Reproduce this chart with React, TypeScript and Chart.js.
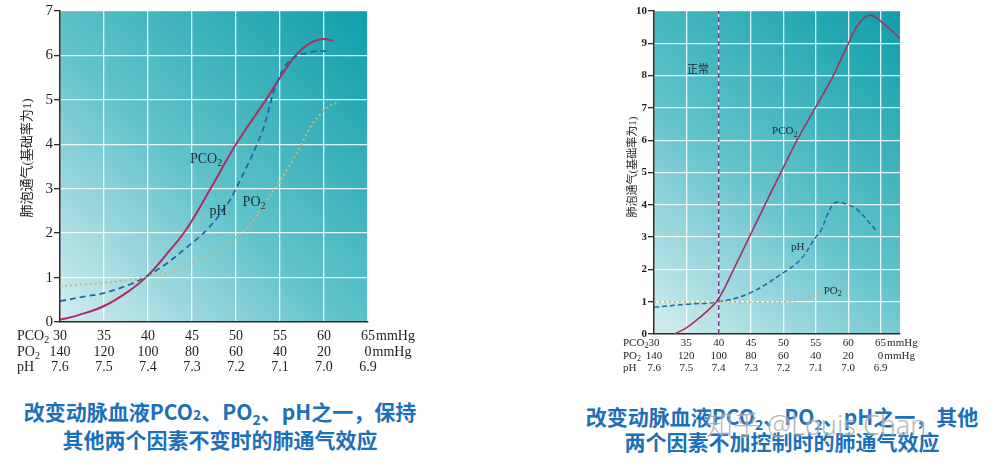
import React, { useEffect, useRef } from "react";
import { Chart, registerables } from "chart.js";
Chart.register(...registerables);

// ---------------- Data ----------------
const xTickValues = [30, 35, 40, 45, 50, 55, 60, 65];
const pco2RowLabels = ["30", "35", "40", "45", "50", "55", "60", "65"];
const po2RowLabels = ["140", "120", "100", "80", "60", "40", "20", "0"];
const phRowLabels = ["7.6", "7.5", "7.4", "7.3", "7.2", "7.1", "7.0", "6.9"];
const unitSuffix = "mmHg";
const rowNames = ["PCO", "PO", "pH"];
const rowSubs = ["2", "2", ""];
const yTitle = "肺泡通气(基础率为1)";

// Left chart: one factor changed, the other two held constant
const leftPco2X = [30, 32, 35, 38, 40, 42, 44.3, 47.1, 50, 53.4, 55.5, 57, 58.6, 60, 61];
const leftPco2Y = [0.05, 0.15, 0.36, 0.72, 1.05, 1.5, 2.07, 3.0, 4.0, 5.0, 5.65, 6.05, 6.3, 6.37, 6.33];
const leftPhX = [30, 33, 35, 38, 40, 42.2, 44.4, 46.8, 49, 50, 52.9, 54.6, 56.2, 58.6, 60.3];
const leftPhY = [0.47, 0.58, 0.65, 0.85, 1.05, 1.33, 1.68, 2.1, 2.65, 3.0, 4.25, 5.35, 5.9, 6.08, 6.1];
const leftPo2X = [30, 33, 35, 38, 40, 43, 45, 47, 49.5, 51, 52, 53, 54.6, 56, 57.3, 58.5, 59.7, 60.5, 61.4];
const leftPo2Y = [0.8, 0.85, 0.88, 0.95, 1.03, 1.15, 1.33, 1.47, 1.85, 2.07, 2.3, 2.6, 3.05, 3.5, 3.95, 4.4, 4.7, 4.85, 4.93];

// Right chart: the other two factors uncontrolled
const rightPco2X = [33.1, 35, 37, 38.7, 40, 42.3, 45.2, 47.5, 49.8, 52.1, 55, 57.7, 59.8, 61.6, 63.3, 64.9, 68];
const rightPco2Y = [0, 0.19, 0.5, 0.8, 1.1, 2.0, 3.2, 4.15, 5.08, 6.0, 7.03, 8.0, 8.9, 9.6, 9.87, 9.7, 9.15];
const rightPhX = [30, 35, 40, 44.8, 50, 52.6, 55, 55.8, 56.8, 57.8, 58.5, 60, 61.4, 63.9, 64.3];
const rightPhY = [0.83, 0.92, 1.0, 1.27, 1.9, 2.3, 3.0, 3.2, 3.7, 4.05, 4.08, 4.0, 3.85, 3.3, 3.2];
const rightPo2X = [30, 35, 40, 45, 50, 52, 54, 55, 55.8];
const rightPo2Y = [1.0, 1.0, 1.0, 0.99, 1.0, 1.04, 1.12, 1.2, 1.32];
const normalLineX = [40, 40];
const normalLineY = [0, 10];

// Curve annotations (data coordinates)
const leftLabels = [
  { text: "PCO", sub: "2", x: 46.6, y: 3.67 },
  { text: "pH", sub: "", x: 47.95, y: 2.48 },
  { text: "PO", sub: "2", x: 52.05, y: 2.7 },
];
const rightLabels = [
  { text: "PCO", sub: "2", x: 50.2, y: 6.28 },
  { text: "pH", sub: "", x: 52.2, y: 2.69 },
  { text: "PO", sub: "2", x: 57.6, y: 1.33 },
  { text: "正常", sub: "", x: 36.8, y: 8.17 },
];

const SERIF = '"Liberation Serif", "DejaVu Serif", "Noto Sans CJK SC", serif';

const pts = (xs: number[], ys: number[]) => xs.map((x, i) => ({ x, y: ys[i] }));

type Spec = {
  left: number;
  width: number;
  height: number;
  areaLeft: number;
  areaRight: number;
  areaTop: number;
  areaBottom: number;
  xMax: number;
  yMax: number;
  yFont: number;
  rowFont: number;
  rowOffsets: number[];
  rowNameX: number;
  titleX: number;
  titleY: number;
  titleFont: number;
  labelFont: number;
  labels: { text: string; sub: string; x: number; y: number }[];
  datasets: any[];
};

function drawSubText(ctx: CanvasRenderingContext2D, text: string, sub: string, x: number, y: number, size: number, align: "left" | "center") {
  ctx.font = `${size}px ${SERIF}`;
  const w1 = ctx.measureText(text).width;
  ctx.font = `${Math.round(size * 0.7)}px ${SERIF}`;
  const w2 = sub ? ctx.measureText(sub).width : 0;
  const start = align === "center" ? x - (w1 + w2) / 2 : x;
  ctx.textAlign = "left";
  ctx.textBaseline = "middle";
  ctx.font = `${size}px ${SERIF}`;
  ctx.fillText(text, start, y);
  if (sub) {
    ctx.font = `${Math.round(size * 0.7)}px ${SERIF}`;
    ctx.fillText(sub, start + w1, y + size * 0.3);
  }
}

function ChartPanel({ spec }: { spec: Spec }) {
  const ref = useRef<HTMLCanvasElement | null>(null);
  useEffect(() => {
    if (!ref.current) return;
    const s = spec;
    const deco = {
      id: "deco",
      beforeDraw(chart: any) {
        const { ctx, chartArea: a } = chart;
        const g = ctx.createLinearGradient(a.left, a.bottom, a.right, a.top);
        g.addColorStop(0, "#d4edf0");
        g.addColorStop(0.45, "#62c3ca");
        g.addColorStop(1, "#0f9eaa");
        ctx.save();
        ctx.fillStyle = g;
        ctx.fillRect(a.left, a.top, a.right - a.left, a.bottom - a.top);
        ctx.restore();
      },
      afterDraw(chart: any) {
        const { ctx, chartArea: a } = chart;
        const xs = chart.scales.x;
        const ys = chart.scales.y;
        ctx.save();
        ctx.fillStyle = "#1e1e1e";
        const rows = [pco2RowLabels, po2RowLabels, phRowLabels];
        rows.forEach((row, r) => {
          const y = a.bottom + s.rowOffsets[r];
          ctx.font = `${s.rowFont}px ${SERIF}`;
          ctx.textBaseline = "middle";
          row.forEach((lab, i) => {
            const px = xs.getPixelForValue(xTickValues[i]);
            ctx.textAlign = "center";
            ctx.fillText(lab, px, y);
            if (i === row.length - 1 && r < 2) {
              const w = ctx.measureText(lab).width;
              ctx.textAlign = "left";
              ctx.fillText(unitSuffix, px + w / 2 + 1, y);
            }
          });
          drawSubText(ctx, rowNames[r], rowSubs[r], s.rowNameX, y, s.rowFont, "left");
        });
        ctx.save();
        ctx.translate(s.titleX, s.titleY);
        ctx.rotate(-Math.PI / 2);
        ctx.font = `${s.titleFont}px ${SERIF}`;
        ctx.textAlign = "center";
        ctx.textBaseline = "middle";
        ctx.fillText(yTitle, 0, 0);
        ctx.restore();
        ctx.fillStyle = "#1b2a33";
        s.labels.forEach((l) => {
          drawSubText(ctx, l.text, l.sub, xs.getPixelForValue(l.x), ys.getPixelForValue(l.y), s.labelFont, "center");
        });
        ctx.restore();
      },
    };
    const chart = new Chart(ref.current, {
      type: "line",
      data: { datasets: s.datasets },
      options: {
        animation: false,
        responsive: false,
        maintainAspectRatio: false,
        layout: {
          padding: {
            left: 0,
            top: s.areaTop,
            right: s.width - s.areaRight,
            bottom: 0,
          },
        },
        plugins: { legend: { display: false }, tooltip: { enabled: false } },
        elements: { point: { radius: 0 } },
        scales: {
          x: {
            type: "linear",
            min: 30,
            max: s.xMax,
            afterBuildTicks: (sc: any) => {
              sc.ticks = xTickValues.map((v) => ({ value: v }));
            },
            afterFit: (sc: any) => {
              sc.height = s.height - s.areaBottom;
            },
            ticks: { display: false },
            grid: { color: "rgba(255,255,255,0.85)", lineWidth: 1.3, drawTicks: false },
            border: { color: "#2a2a2a", width: 1.5 },
          },
          y: {
            min: 0,
            max: s.yMax,
            afterFit: (sc: any) => {
              sc.width = s.areaLeft;
            },
            ticks: {
              stepSize: 1,
              color: "#1e1e1e",
              padding: 1,
              font: { family: SERIF, size: s.yFont, weight: s.yFont < 13 ? "bold" : "normal" },
            },
            grid: { color: "rgba(255,255,255,0.85)", lineWidth: 1.3, tickColor: "#2a2a2a", tickLength: 6, tickWidth: 1.3 },
            border: { color: "#2a2a2a", width: 1.5 },
          },
        },
      },
      plugins: [deco],
    } as any);
    return () => chart.destroy();
  }, [spec]);
  return (
    <canvas
      ref={ref}
      width={spec.width}
      height={spec.height}
      style={{ position: "absolute", left: spec.left, top: 0, width: spec.width, height: spec.height }}
    />
  );
}

const lineDs = (data: any[], color: string, dash: number[], width: number, tension = 0.4) => ({
  data,
  borderColor: color,
  borderDash: dash,
  borderWidth: width,
  fill: false,
  pointRadius: 0,
  tension,
  parsing: false,
});

const PCO2_COLOR = "#b32a5c";
const PH_COLOR = "#2464a6";
const PO2_COLOR = "#cdb57a";

const leftSpec: Spec = {
  left: 0,
  width: 430,
  height: 390,
  areaLeft: 60,
  areaRight: 368,
  areaTop: 11,
  areaBottom: 322,
  xMax: 65,
  yMax: 7,
  yFont: 15,
  rowFont: 14,
  rowOffsets: [14, 30, 45],
  rowNameX: 17,
  titleX: 28,
  titleY: 158,
  titleFont: 13,
  labelFont: 14,
  labels: leftLabels,
  datasets: [
    lineDs(pts(leftPo2X, leftPo2Y), PO2_COLOR, [2, 3], 2),
    lineDs(pts(leftPhX, leftPhY), PH_COLOR, [6, 4], 1.8),
    lineDs(pts(leftPco2X, leftPco2Y), PCO2_COLOR, [], 2),
  ],
};

const rightSpec: Spec = {
  left: 600,
  width: 403,
  height: 390,
  areaLeft: 54,
  areaRight: 300,
  areaTop: 11,
  areaBottom: 334,
  xMax: 68,
  yMax: 10,
  yFont: 11,
  rowFont: 11,
  rowOffsets: [9, 22, 34],
  rowNameX: 23,
  titleX: 33,
  titleY: 167,
  titleFont: 11,
  labelFont: 11,
  labels: rightLabels,
  datasets: [
    lineDs(pts(normalLineX, normalLineY), "#6c3a94", [5, 3], 1.5, 0),
    lineDs(pts(rightPo2X, rightPo2Y), PO2_COLOR, [2, 3], 2),
    lineDs(pts(rightPhX, rightPhY), PH_COLOR, [5, 3], 1.5),
    lineDs(pts(rightPco2X, rightPco2Y), "#a8305f", [], 1.6),
  ],
};

const captionStyle: React.CSSProperties = {
  position: "absolute",
  textAlign: "center",
  color: "#1c6fb9",
  fontFamily: '"Noto Sans CJK SC", "Noto Sans", sans-serif',
  fontWeight: 700,
  fontSize: 21,
  lineHeight: "25px",
  whiteSpace: "nowrap",
};

export default function App() {
  return (
    <div style={{ position: "fixed", left: 0, top: 0, width: 1003, height: 467, background: "#fff", overflow: "hidden" }}>
      <ChartPanel spec={leftSpec} />
      <ChartPanel spec={rightSpec} />
      <div style={{ ...captionStyle, left: 0, width: 440, top: 399 }}>
        改变动脉血液PCO<span style={{ fontSize: 14 }}>2</span>、PO<sub style={{ fontSize: 14, lineHeight: 0 }}>2</sub>、pH之一，保持
        <br />
        其他两个因素不变时的肺通气效应
      </div>
      <div style={{ ...captionStyle, left: 562, width: 440, top: 404 }}>
        改变动脉血液PCO<sub style={{ fontSize: 14, lineHeight: 0 }}>2</sub>、PO<sub style={{ fontSize: 14, lineHeight: 0 }}>2</sub>、pH之一，其他
        <br />
        两个因素不加控制时的肺通气效应
      </div>
      <div
        style={{
          position: "absolute",
          left: 706,
          top: 404,
          fontFamily: '"Noto Sans", "Noto Sans CJK SC", sans-serif',
          fontWeight: 300,
          fontSize: 27,
          color: "rgba(150,150,150,0.7)",
          textShadow: "0 0 2px rgba(255,255,255,0.8)",
          whiteSpace: "nowrap",
        }}
      >
        知乎 @Louis Chan
      </div>
    </div>
  );
}
